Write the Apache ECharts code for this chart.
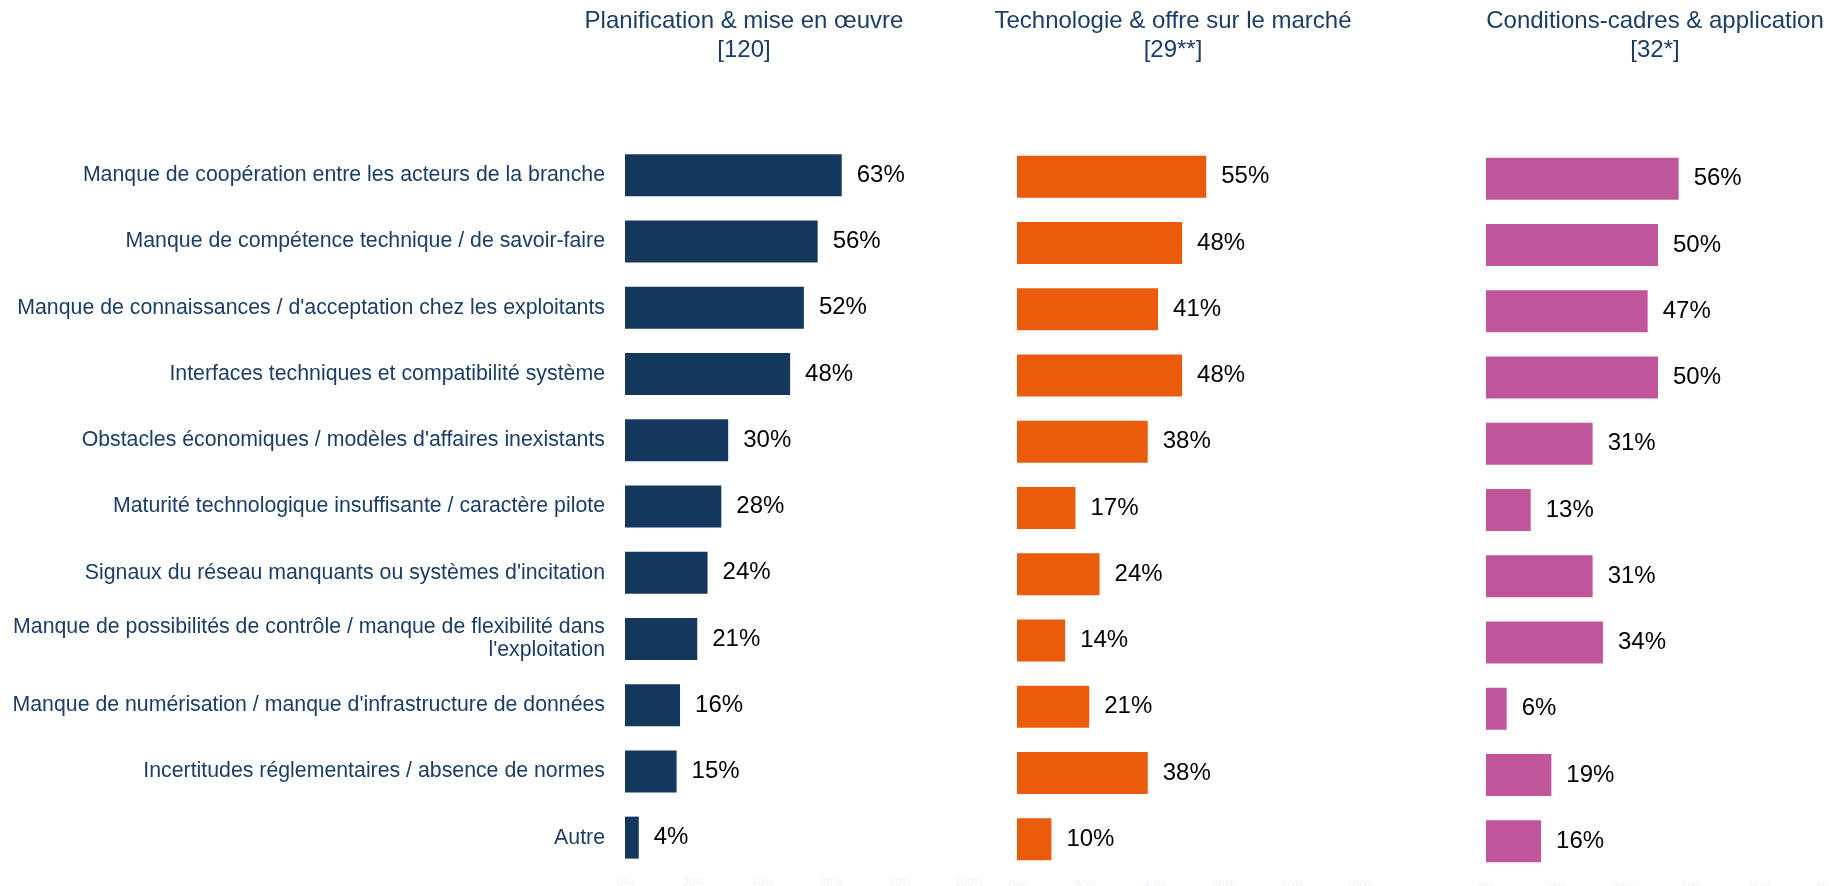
<!DOCTYPE html>
<html><head><meta charset="utf-8">
<script src="https://cdn.jsdelivr.net/npm/echarts@6/dist/echarts.min.js"></script>
<style>html,body{margin:0;padding:0;background:#fff}#c{width:1829px;height:886px}</style>
</head><body><div id="c"></div>
<script>
const categories = [
  "Manque de coopération entre les acteurs de la branche",
  "Manque de compétence technique / de savoir-faire",
  "Manque de connaissances / d'acceptation chez les exploitants",
  "Interfaces techniques et compatibilité système",
  "Obstacles économiques / modèles d'affaires inexistants",
  "Maturité technologique insuffisante / caractère pilote",
  "Signaux du réseau manquants ou systèmes d'incitation",
  "Manque de possibilités de contrôle / manque de flexibilité dans\nl'exploitation",
  "Manque de numérisation / manque d'infrastructure de données",
  "Incertitudes réglementaires / absence de normes",
  "Autre"
];
const panelTitles = [
  "Planification & mise en œuvre\n[120]",
  "Technologie & offre sur le marché\n[29**]",
  "Conditions-cadres & application\n[32*]"
];
const planification = [63, 56, 52, 48, 30, 28, 24, 21, 16, 15, 4];
const technologie = [55, 48, 41, 48, 38, 17, 24, 14, 21, 38, 10];
const conditions = [56, 50, 47, 50, 31, 13, 31, 34, 6, 19, 16];
const xTicks = [0, 20, 40, 60, 80, 100];

const seriesData = [planification, technologie, conditions];
const colors = ['#14375e', '#ea5b0c', '#c1559b'];
const gridLeft = [625, 1017, 1486];
const gridTop = [142, 143.5, 145.5];
const titleX = [739, 1168, 1650];

const chart = echarts.init(document.getElementById('c'), null, {renderer: 'canvas'});
const font = 'Liberation Sans, Arial, sans-serif';

const option = {
  backgroundColor: '#ffffff',
  animation: false,
  title: panelTitles.map((t, i) => ({
    text: t,
    left: titleX[i],
    top: 2,
    textAlign: 'center',
    textStyle: {fontFamily: font, fontSize: 24, fontWeight: 'normal', color: '#1b3d66', lineHeight: 29, align: 'center'}
  })),
  grid: seriesData.map((d, i) => ({
    left: gridLeft[i], width: 344, top: gridTop[i], height: 11 * 66.25,
    containLabel: false, outerBoundsMode: 'none'
  })),
  xAxis: seriesData.map((d, i) => ({
    type: 'value', gridIndex: i, min: 0, max: 100, interval: 20,
    axisLine: {show: false}, axisTick: {show: false}, splitLine: {show: false},
    axisLabel: {show: true, formatter: v => xTicks.includes(v) ? v + '%' : '', color: '#eef2f8', fontSize: 11, fontFamily: font, margin: 7}
  })),
  yAxis: seriesData.map((d, i) => ({
    type: 'category', gridIndex: i, data: categories, inverse: true,
    axisLine: {show: false}, axisTick: {show: false}, splitLine: {show: false},
    axisLabel: i === 0 ? {show: true, color: '#1b3d66', fontSize: 21.3, fontFamily: font, margin: 20, align: 'right', lineHeight: 23} : {show: false}
  })),
  series: seriesData.map((d, i) => ({
    type: 'bar', xAxisIndex: i, yAxisIndex: i, data: d,
    barWidth: 42,
    itemStyle: {color: colors[i]},
    label: {show: true, position: 'right', distance: 15, formatter: '{c}%', color: '#000', fontSize: 24, fontFamily: font}
  }))
};
chart.setOption(option);
</script></body></html>
